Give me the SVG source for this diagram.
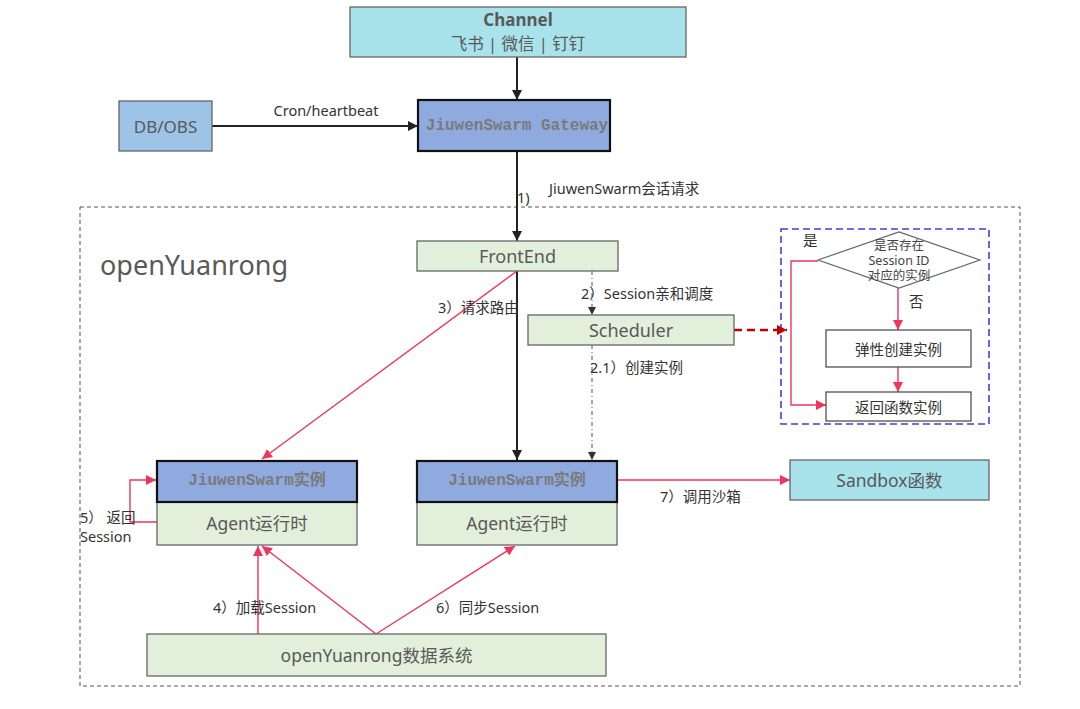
<svg xmlns="http://www.w3.org/2000/svg" width="1080" height="709" viewBox="0 0 1080 709">
<defs>
<style>
.t{font-family:"Noto Sans","Noto Sans CJK SC",sans-serif;fill:#595959;text-anchor:middle;dominant-baseline:central}
.l{font-family:"Noto Sans","Noto Sans CJK SC",sans-serif;fill:#333;font-size:14.5px}
.m{font-family:"Liberation Mono","DejaVu Sans Mono","Noto Sans CJK SC",monospace;font-weight:bold;fill:#7a7a7a;font-size:16px;text-anchor:middle;dominant-baseline:central}
.g{fill:#e2efda;stroke:#666;stroke-width:1.3}
.b{fill:#8eaadf;stroke:#111;stroke-width:2.2}
.c{fill:#a8e2ea;stroke:#666;stroke-width:1.3}
.k{stroke:#222;stroke-width:2;fill:none}
.r{stroke:#f0345c;stroke-width:1.4;fill:none}
.d{stroke:#555;stroke-width:1;fill:none;stroke-dasharray:4 3 1 3}
</style>
<marker id="ak" viewBox="0 0 10 10" refX="10" refY="5" markerWidth="10" markerHeight="10" markerUnits="userSpaceOnUse" orient="auto"><path d="M0,0L10,5L0,10z" fill="#222"/></marker>
<marker id="ar" viewBox="0 0 10 10" refX="10" refY="5" markerWidth="10" markerHeight="10" markerUnits="userSpaceOnUse" orient="auto"><path d="M0,0L10,5L0,10z" fill="#f0345c"/></marker>
<marker id="ad" viewBox="0 0 10 10" refX="10" refY="5" markerWidth="8" markerHeight="8" markerUnits="userSpaceOnUse" orient="auto"><path d="M0,0L10,5L0,10z" fill="#333"/></marker>
<marker id="add" viewBox="0 0 10 10" refX="10" refY="5" markerWidth="10" markerHeight="10" markerUnits="userSpaceOnUse" orient="auto"><path d="M0,0L10,5L0,10z" fill="#c00000"/></marker>
</defs>
<rect width="1080" height="709" fill="#fff"/>
<g id="container">
<rect x="80" y="207" width="940" height="479" fill="none" stroke="#555" stroke-width="1" stroke-dasharray="4 3"/>
<text x="100" y="264" style="font-family:'Noto Sans',sans-serif;font-size:27px;fill:#595959;dominant-baseline:central">openYuanrong</text>
</g>
<g id="flowbox">
<rect x="781" y="229" width="208" height="195" fill="none" stroke="#4040e0" stroke-width="1.6" stroke-dasharray="7 4"/>
</g>
<g id="connectors">
<line x1="517" y1="57" x2="517" y2="100" class="k" marker-end="url(#ak)"/>
<line x1="212" y1="126" x2="418" y2="126" class="k" marker-end="url(#ak)"/>
<line x1="517" y1="151" x2="517" y2="241" class="k" marker-end="url(#ak)"/>
<line x1="517" y1="271" x2="517" y2="460" class="k" marker-end="url(#ak)"/>
<line x1="592" y1="271" x2="592" y2="315" class="d" marker-end="url(#ad)"/>
<line x1="592" y1="345" x2="592" y2="460" class="d" marker-end="url(#ad)"/>
<line x1="517" y1="271" x2="262" y2="459" class="r" marker-end="url(#ar)"/>
<line x1="734" y1="330" x2="787" y2="330" stroke="#c00000" stroke-width="2.5" stroke-dasharray="8 5" marker-end="url(#add)"/>
<line x1="617" y1="480" x2="790" y2="480" class="r" marker-end="url(#ar)"/>
<polyline points="157,522 130,522 130,480 156,480" class="r" marker-end="url(#ar)"/>
<line x1="258" y1="634" x2="258" y2="546" class="r" marker-end="url(#ar)"/>
<line x1="376" y1="634" x2="262" y2="546" class="r" marker-end="url(#ar)"/>
<line x1="376" y1="634" x2="515" y2="546" class="r" marker-end="url(#ar)"/>
<line x1="898" y1="288" x2="898" y2="330" class="r" marker-end="url(#ar)"/>
<line x1="898" y1="367" x2="898" y2="392" class="r" marker-end="url(#ar)"/>
<polyline points="818,261 791,261 791,405 826,405" class="r" marker-end="url(#ar)"/>
<text x="326" y="116" class="l" text-anchor="middle">Cron/heartbeat</text>
<text x="517" y="203" class="l">1)</text>
<text x="549" y="194" class="l">JiuwenSwarm会话请求</text>
<text x="581" y="299" class="l">2）Session亲和调度</text>
<text x="438" y="313" class="l">3）请求路由</text>
<text x="590" y="373" class="l">2.1）创建实例</text>
<text x="660" y="502" class="l">7）调用沙箱</text>
<text x="80" y="523" class="l">5） 返回</text>
<text x="80" y="542" class="l">Session</text>
<text x="213" y="613" class="l">4）加载Session</text>
<text x="436" y="613" class="l">6）同步Session</text>
<text x="803" y="246" class="l">是</text>
<text x="909" y="307" class="l">否</text>
</g>
<g id="channel">
<rect x="350" y="7" width="336" height="50" class="c"/>
<text x="518" y="19.5" class="t" style="font-size:17px;font-weight:bold">Channel</text>
<text x="518" y="43" class="t" style="font-size:16.5px">飞书 | 微信 | 钉钉</text>
</g>
<g id="dbobs">
<rect x="119" y="101" width="93" height="50" fill="#9dc3e6" stroke="#666" stroke-width="1.3"/>
<text x="165.5" y="126" class="t" style="font-size:17px">DB/OBS</text>
</g>
<g id="gateway">
<rect x="418" y="100" width="192" height="51" class="b"/>
<text x="517" y="126" class="m">JiuwenSwarm Gateway</text>
</g>
<g id="frontend">
<rect x="417" y="241" width="201" height="30" class="g"/>
<text x="517.5" y="256" class="t" style="font-size:18px">FrontEnd</text>
</g>
<g id="scheduler">
<rect x="528" y="315" width="206" height="30" class="g"/>
<text x="631" y="330" class="t" style="font-size:18px">Scheduler</text>
</g>
<g id="decision">
<polygon points="818,260 899,232 980,260 899,288" fill="#fff" stroke="#666" stroke-width="1.2"/>
<text x="899" y="245" class="t" style="font-size:12.5px;fill:#444">是否存在</text>
<text x="899" y="260" class="t" style="font-size:12.5px;fill:#444">Session ID</text>
<text x="899" y="275" class="t" style="font-size:12.5px;fill:#444">对应的实例</text>
</g>
<g id="create">
<rect x="826" y="330" width="145" height="37" fill="#fff" stroke="#444" stroke-width="1.2"/>
<text x="898.5" y="348.5" class="t" style="font-size:14.5px;fill:#333">弹性创建实例</text>
</g>
<g id="return">
<rect x="826" y="392" width="145" height="29" fill="#fff" stroke="#444" stroke-width="1.2"/>
<text x="898.5" y="406.5" class="t" style="font-size:14.5px;fill:#333">返回函数实例</text>
</g>
<g id="instance1">
<rect x="157" y="502" width="200" height="43" class="g"/>
<rect x="157" y="461" width="200" height="41" class="b"/>
<text x="257" y="481" class="m">JiuwenSwarm实例</text>
<text x="257" y="523" class="t" style="font-size:17.5px">Agent运行时</text>
</g>
<g id="instance2">
<rect x="417" y="502" width="200" height="43" class="g"/>
<rect x="417" y="461" width="200" height="41" class="b"/>
<text x="517" y="481" class="m">JiuwenSwarm实例</text>
<text x="517" y="523" class="t" style="font-size:17.5px">Agent运行时</text>
</g>
<g id="sandbox">
<rect x="790" y="460" width="199" height="40" class="c"/>
<text x="889.5" y="480" class="t" style="font-size:17.5px">Sandbox函数</text>
</g>
<g id="datasystem">
<rect x="147" y="634" width="459" height="42" class="g"/>
<text x="376.5" y="655" class="t" style="font-size:17.5px">openYuanrong数据系统</text>
</g>
</svg>
